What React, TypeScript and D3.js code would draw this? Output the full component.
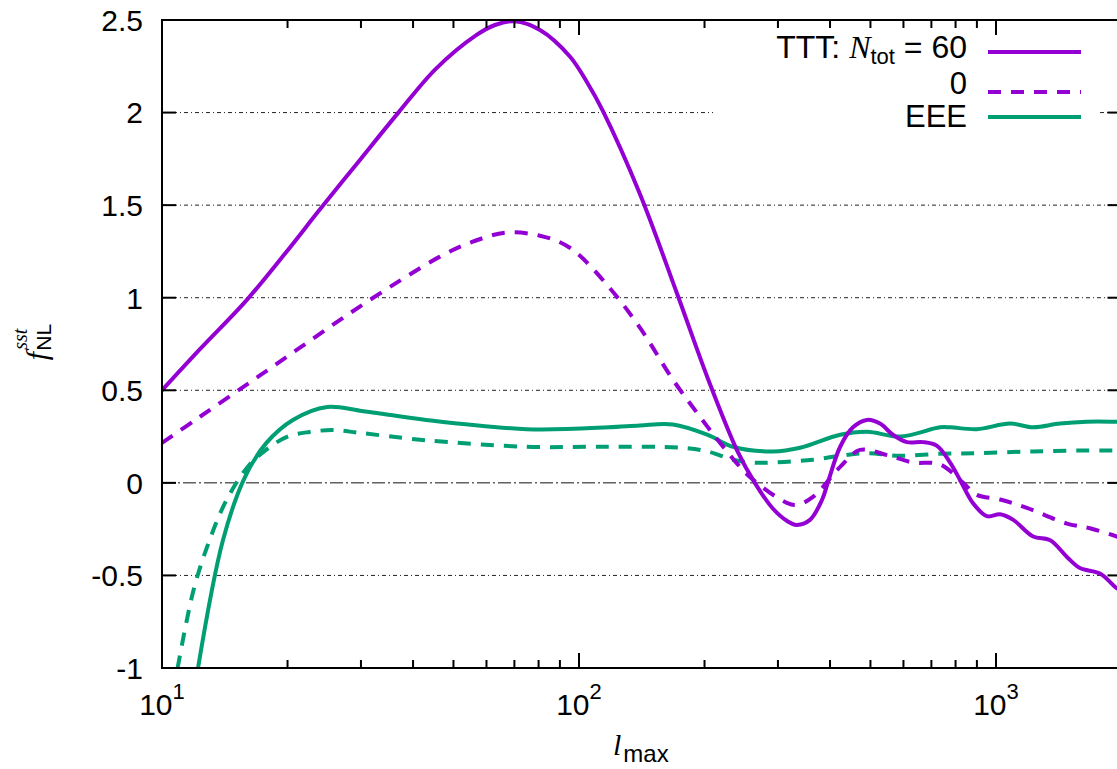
import React, { useEffect, useRef } from 'react';
import * as d3 from 'd3';

// TTT, N_tot = 60 (solid purple)
const tttL60 = [10, 12.33, 16.0, 19.8, 23.9, 29.7, 36.8, 45.3, 56.6, 62.9, 70, 80.8, 95.1, 104.8, 114, 140, 172, 204, 240, 264, 292, 315, 333, 358, 383, 395, 423, 454, 491, 527, 566, 612, 668, 722, 777, 820, 881, 951, 1023, 1100, 1228, 1349, 1480, 1590, 1776, 1950, 2000];
const tttF60 = [0.5, 0.722, 0.99, 1.243, 1.476, 1.739, 1.997, 2.235, 2.417, 2.473, 2.493, 2.445, 2.303, 2.16, 2.01, 1.56, 1.02, 0.56, 0.17, 0.0, -0.14, -0.205, -0.227, -0.2, -0.09, 0.0, 0.195, 0.3, 0.34, 0.32, 0.26, 0.22, 0.22, 0.2, 0.108, 0.016, -0.11, -0.18, -0.17, -0.2, -0.29, -0.31, -0.4, -0.46, -0.49, -0.57, -0.58];

// TTT, N_tot = 0 (dashed purple)
const tttL0 = [10, 12.33, 16.26, 21.42, 28.2, 37.2, 46.4, 54.8, 66.5, 80.6, 95.1, 116.7, 140, 168, 192, 218, 257, 315, 333, 364, 423, 472, 548, 632, 734, 834, 900, 1023, 1186, 1480, 1680, 1950, 2000];
const tttF0 = [0.216, 0.357, 0.543, 0.73, 0.916, 1.092, 1.222, 1.297, 1.351, 1.335, 1.27, 1.07, 0.838, 0.557, 0.378, 0.216, 0.032, -0.108, -0.119, -0.076, 0.086, 0.178, 0.15, 0.11, 0.1, 0.0, -0.065, -0.09, -0.135, -0.22, -0.245, -0.29, -0.3];

// EEE, N_tot = 60 (solid green)
const eeeL60 = [12.2, 14.0, 15.8, 17.8, 20.6, 24.9, 29.8, 33.3, 43, 75, 118, 140, 168, 203, 234, 292, 339, 423, 491, 589, 734, 777, 900, 1081, 1228, 1424, 1651, 1950, 2000];
const eeeF60 = [-1.0, -0.31, 0.03, 0.216, 0.34, 0.41, 0.39, 0.375, 0.34, 0.29, 0.3, 0.31, 0.315, 0.26, 0.195, 0.17, 0.19, 0.26, 0.276, 0.25, 0.3, 0.3, 0.29, 0.32, 0.3, 0.32, 0.33, 0.33, 0.33];

// EEE, N_tot = 0 (dashed green)
const eeeL0 = [10.9, 11.9, 13.0, 14.3, 16.1, 17.8, 20.0, 22.6, 25.7, 29.8, 43, 75, 118, 175, 203, 234, 257, 292, 364, 423, 491, 589, 734, 900, 1228, 1651, 1950, 2000];
const eeeF0 = [-1.0, -0.58, -0.31, -0.09, 0.09, 0.18, 0.25, 0.275, 0.285, 0.27, 0.23, 0.195, 0.195, 0.19, 0.17, 0.125, 0.11, 0.11, 0.125, 0.146, 0.16, 0.146, 0.157, 0.16, 0.17, 0.175, 0.175, 0.175];

const yTicks = [-1, -0.5, 0, 0.5, 1, 1.5, 2, 2.5];
const yTickLabels = ['-1', '-0.5', '0', '0.5', '1', '1.5', '2', '2.5'];
const xMajor = [10, 100, 1000];
const xMajorExp = ['1', '2', '3'];

const PURPLE = '#9400d3';
const GREEN = '#009e73';

export default function App() {
  const ref = useRef<SVGSVGElement>(null);

  useEffect(() => {
    const svg = d3.select(ref.current);
    svg.selectAll('*').remove();

    const left = 162, right = 1121.5, top = 20, bottom = 668;
    const x = d3.scaleLog().domain([10, 2000]).range([left, right]);
    const y = d3.scaleLinear().domain([-1, 2.5]).range([bottom, top]);

    svg.append('defs').append('clipPath').attr('id', 'plotclip')
      .append('rect').attr('x', left).attr('y', top)
      .attr('width', right - left).attr('height', bottom - top);

    // grid lines
    const grid = svg.append('g').attr('stroke', '#222').attr('stroke-width', 1);
    [-0.5, 0.5, 1, 1.5].forEach(v => {
      grid.append('line').attr('x1', left).attr('x2', right)
        .attr('y1', y(v)).attr('y2', y(v)).attr('stroke-dasharray', '4 3 1 3');
    });
    // 2.0 line is cut by the legend box
    grid.append('line').attr('x1', left).attr('x2', 713).attr('y1', y(2)).attr('y2', y(2))
      .attr('stroke-dasharray', '4 3 1 3');
    grid.append('line').attr('x1', 1100).attr('x2', right).attr('y1', y(2)).attr('y2', y(2))
      .attr('stroke-dasharray', '4 3 1 3');
    // zero line
    grid.append('line').attr('x1', left).attr('x2', right).attr('y1', y(0)).attr('y2', y(0))
      .attr('stroke', '#111').attr('stroke-dasharray', '13 3 2 3');

    // curves
    const line = d3.line<[number, number]>()
      .x(d => x(d[0])).y(d => y(d[1]))
      .curve(d3.curveCatmullRom.alpha(0.5));

    const curves = svg.append('g').attr('clip-path', 'url(#plotclip)').attr('fill', 'none')
      .attr('stroke-width', 4).attr('stroke-linejoin', 'round');

    const series = [
      { l: eeeL0, f: eeeF0, color: GREEN, dash: '13 10' },
      { l: eeeL60, f: eeeF60, color: GREEN, dash: null },
      { l: tttL0, f: tttF0, color: PURPLE, dash: '13 10' },
      { l: tttL60, f: tttF60, color: PURPLE, dash: null },
    ];
    series.forEach(s => {
      const pts = s.l.map((l, i) => [l, s.f[i]] as [number, number]);
      curves.append('path').attr('d', line(pts)).attr('stroke', s.color)
        .attr('stroke-dasharray', s.dash);
    });

    // frame
    svg.append('rect').attr('x', left).attr('y', top)
      .attr('width', right - left).attr('height', bottom - top)
      .attr('fill', 'none').attr('stroke', '#000').attr('stroke-width', 2);

    // ticks
    const ticks = svg.append('g').attr('stroke', '#000').attr('stroke-width', 2);
    yTicks.forEach(v => {
      ticks.append('line').attr('x1', left).attr('x2', left + 14).attr('y1', y(v)).attr('y2', y(v));
      ticks.append('line').attr('x1', right).attr('x2', right - 14).attr('y1', y(v)).attr('y2', y(v));
    });
    const minor: number[] = [];
    [10, 100, 1000].forEach(d => { for (let k = 2; k <= 9; k++) if (d * k <= 2000) minor.push(d * k); });
    xMajor.forEach(v => {
      ticks.append('line').attr('x1', x(v)).attr('x2', x(v)).attr('y1', bottom).attr('y2', bottom - 15);
      ticks.append('line').attr('x1', x(v)).attr('x2', x(v)).attr('y1', top).attr('y2', top + 15);
    });
    minor.forEach(v => {
      ticks.append('line').attr('x1', x(v)).attr('x2', x(v)).attr('y1', bottom).attr('y2', bottom - 8);
      ticks.append('line').attr('x1', x(v)).attr('x2', x(v)).attr('y1', top).attr('y2', top + 8);
    });

    const sans = 'Liberation Sans, Arial, Helvetica, sans-serif';
    const serif = 'Liberation Serif, Times New Roman, serif';

    // y tick labels
    yTicks.forEach((v, i) => {
      svg.append('text').attr('x', 143).attr('y', y(v)).attr('dy', '0.36em')
        .attr('text-anchor', 'end').attr('font-family', sans).attr('font-size', 30)
        .text(yTickLabels[i]);
    });

    // x tick labels
    xMajor.forEach((v, i) => {
      const t = svg.append('text').attr('x', x(v)).attr('y', 715)
        .attr('text-anchor', 'middle').attr('font-family', sans).attr('font-size', 30);
      t.append('tspan').text('10');
      t.append('tspan').attr('dy', -16).attr('font-size', 22).text(xMajorExp[i]);
    });

    // x axis label
    const xl = svg.append('text').attr('x', 613).attr('y', 755).attr('font-size', 30);
    xl.append('tspan').attr('font-family', serif).attr('font-style', 'italic').text('l');
    xl.append('tspan').attr('font-family', sans).attr('font-size', 24).attr('dx', 2).attr('dy', 7).text('max');

    // y axis label
    const yl = svg.append('text').attr('transform', 'translate(47,342) rotate(-90)')
      .attr('text-anchor', 'middle').attr('font-size', 30);
    yl.append('tspan').attr('font-family', serif).attr('font-style', 'italic').text('f');
    yl.append('tspan').attr('font-family', serif).attr('font-style', 'italic')
      .attr('font-size', 20).attr('dy', -20).attr('dx', 2).text('sst');
    yl.append('tspan').attr('font-family', sans).attr('font-size', 21)
      .attr('dx', -22).attr('dy', 24).text('NL');

    // legend
    const lg = svg.append('g');
    const rows = [
      { yText: 58, yLine: 52, color: PURPLE, dash: null },
      { yText: 94, yLine: 92, color: PURPLE, dash: '13 10' },
      { yText: 127, yLine: 117, color: GREEN, dash: null },
    ];
    rows.forEach(r => {
      lg.append('line').attr('x1', 988).attr('x2', 1081).attr('y1', r.yLine).attr('y2', r.yLine)
        .attr('stroke', r.color).attr('stroke-width', 4).attr('stroke-dasharray', r.dash);
    });
    const t1 = lg.append('text').attr('x', 967).attr('y', rows[0].yText)
      .attr('text-anchor', 'end').attr('font-family', sans).attr('font-size', 32);
    t1.append('tspan').text('TTT: ');
    t1.append('tspan').attr('font-family', serif).attr('font-style', 'italic').text('N');
    t1.append('tspan').attr('font-size', 22).attr('dy', 6).text('tot');
    t1.append('tspan').attr('dy', -6).text(' = 60');
    lg.append('text').attr('x', 967).attr('y', rows[1].yText).attr('text-anchor', 'end')
      .attr('font-family', sans).attr('font-size', 31).text('0');
    lg.append('text').attr('x', 967).attr('y', rows[2].yText).attr('text-anchor', 'end')
      .attr('font-family', sans).attr('font-size', 31).text('EEE');
  }, []);

  return (
    <svg ref={ref} width={1117} height={769}
      style={{ position: 'absolute', left: 0, top: 0, background: '#fff' }} />
  );
}
